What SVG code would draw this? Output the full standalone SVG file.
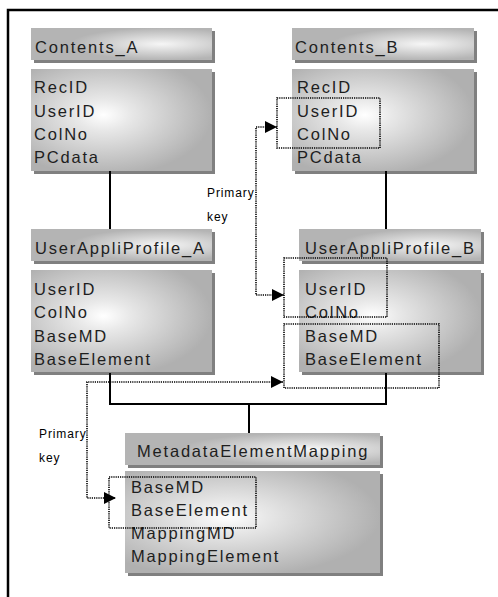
<svg xmlns="http://www.w3.org/2000/svg" width="498" height="597" viewBox="0 0 498 597">
  <style>
    .shadow { fill: #808080; }
    .title { fill: url(#titleGrad); }
    .body { fill: url(#bodyGrad); }
    .txt { font-family: "Liberation Sans", Arial, sans-serif; font-size: 16.5px; letter-spacing: 1.8px; fill: #1e1e1e; }
    .lbl { font-family: "Liberation Sans", Arial, sans-serif; font-size: 12px; letter-spacing: 0.9px; fill: #000; }
    .solid { fill: none; stroke: #000; stroke-width: 2; }
    .dot { fill: none; stroke: #000; stroke-width: 1.6; stroke-dasharray: 1.2 1; }
    .key { marker-start: url(#arrow); marker-end: url(#arrow); }
  </style>
  <defs>
    <radialGradient id="titleGrad" cx="0.72" cy="0.5" r="0.5">
      <stop offset="0" stop-color="#f6f6f6"/>
      <stop offset="1" stop-color="#b4b4b4"/>
    </radialGradient>
    <radialGradient id="bodyGrad" cx="0.4" cy="0.45" r="0.6">
      <stop offset="0" stop-color="#ffffff"/>
      <stop offset="0.25" stop-color="#e8e8e8"/>
      <stop offset="1" stop-color="#b0b0b0"/>
    </radialGradient>
    <marker id="arrow" viewBox="0 0 12 12" refX="12" refY="6" markerWidth="12" markerHeight="12" markerUnits="userSpaceOnUse" orient="auto-start-reverse">
      <path d="M0,0 L12,6 L0,12 z" fill="#000"/>
    </marker>
  </defs>

  <rect width="498" height="597" fill="#fff"/>

  <!-- outer frame, open to the right and bottom -->
  <path d="M8,600 V10 H500" fill="none" stroke="#000" stroke-width="2.5"/>

  <!-- Contents_A table -->
  <g id="contents-a">
    <rect class="shadow" x="34" y="31" width="181" height="32"/>
    <rect class="title" x="31" y="28" width="181" height="32"/>
    <text class="txt" x="35" y="53">Contents_A</text>
    <rect class="shadow" x="34" y="72" width="181" height="102"/>
    <rect class="body" x="31" y="69" width="181" height="102"/>
    <text class="txt" x="34" y="93">RecID</text>
    <text class="txt" x="34" y="117">UserID</text>
    <text class="txt" x="34" y="140">ColNo</text>
    <text class="txt" x="34" y="163">PCdata</text>
  </g>

  <!-- Contents_B table -->
  <g id="contents-b">
    <rect class="shadow" x="295" y="31" width="182" height="32"/>
    <rect class="title" x="292" y="28" width="182" height="32"/>
    <text class="txt" x="295" y="53">Contents_B</text>
    <rect class="shadow" x="295" y="72" width="182" height="102"/>
    <rect class="body" x="292" y="69" width="182" height="102"/>
    <text class="txt" x="297" y="93">RecID</text>
    <text class="txt" x="297" y="117">UserID</text>
    <text class="txt" x="297" y="140">ColNo</text>
    <text class="txt" x="297" y="163">PCdata</text>
  </g>

  <!-- UserAppliProfile_A table -->
  <g id="userappliprofile-a">
    <rect class="shadow" x="34" y="232" width="181" height="32"/>
    <rect class="title" x="31" y="229" width="181" height="32"/>
    <text class="txt" x="35" y="254">UserAppliProfile_A</text>
    <rect class="shadow" x="34" y="273" width="181" height="102"/>
    <rect class="body" x="31" y="270" width="181" height="102"/>
    <text class="txt" x="34" y="295">UserID</text>
    <text class="txt" x="34" y="318">ColNo</text>
    <text class="txt" x="34" y="342">BaseMD</text>
    <text class="txt" x="34" y="365">BaseElement</text>
  </g>

  <!-- UserAppliProfile_B table -->
  <g id="userappliprofile-b">
    <rect class="shadow" x="302" y="232" width="182" height="32"/>
    <rect class="title" x="299" y="229" width="182" height="32"/>
    <text class="txt" x="305" y="254">UserAppliProfile_B</text>
    <rect class="shadow" x="302" y="273" width="182" height="102"/>
    <rect class="body" x="299" y="270" width="182" height="102"/>
    <text class="txt" x="305" y="295">UserID</text>
    <text class="txt" x="305" y="318">ColNo</text>
    <text class="txt" x="305" y="342">BaseMD</text>
    <text class="txt" x="305" y="365">BaseElement</text>
  </g>

  <!-- MetadataElementMapping table -->
  <g id="metadata-element-mapping">
    <rect class="shadow" x="128" y="436" width="255" height="32"/>
    <rect class="title" x="125" y="433" width="255" height="32"/>
    <text class="txt" x="137" y="457">MetadataElementMapping</text>
    <rect class="shadow" x="128" y="474" width="255" height="102"/>
    <rect class="body" x="125" y="471" width="255" height="102"/>
    <text class="txt" x="131" y="493">BaseMD</text>
    <text class="txt" x="131" y="516">BaseElement</text>
    <text class="txt" x="131" y="539">MappingMD</text>
    <text class="txt" x="131" y="562">MappingElement</text>
  </g>

  <!-- primary key labels -->
  <g id="labels">
    <text class="lbl" x="207" y="197">Primary</text>
    <text class="lbl" x="207" y="221">key</text>
    <text class="lbl" x="39" y="438">Primary</text>
    <text class="lbl" x="39" y="462">key</text>
  </g>

  <!-- relations and key highlights -->
  <g id="connectors">
    <path class="solid" d="M110,171 V229"/>
    <path class="solid" d="M386,171 V229"/>
    <path class="solid" d="M110,373 V404 H386 V373"/>
    <path class="solid" d="M249,404 V433"/>

    <rect class="dot" x="277" y="98" width="103" height="50"/>
    <rect class="dot" x="284" y="258" width="103" height="59"/>
    <rect class="dot" x="284" y="324" width="155" height="64"/>
    <rect class="dot" x="109" y="477" width="147" height="51"/>

    <path class="dot key" d="M277,127 H256 V295 H284"/>
    <path class="dot key" d="M283,382 H87 V498 H116"/>
  </g>
</svg>
